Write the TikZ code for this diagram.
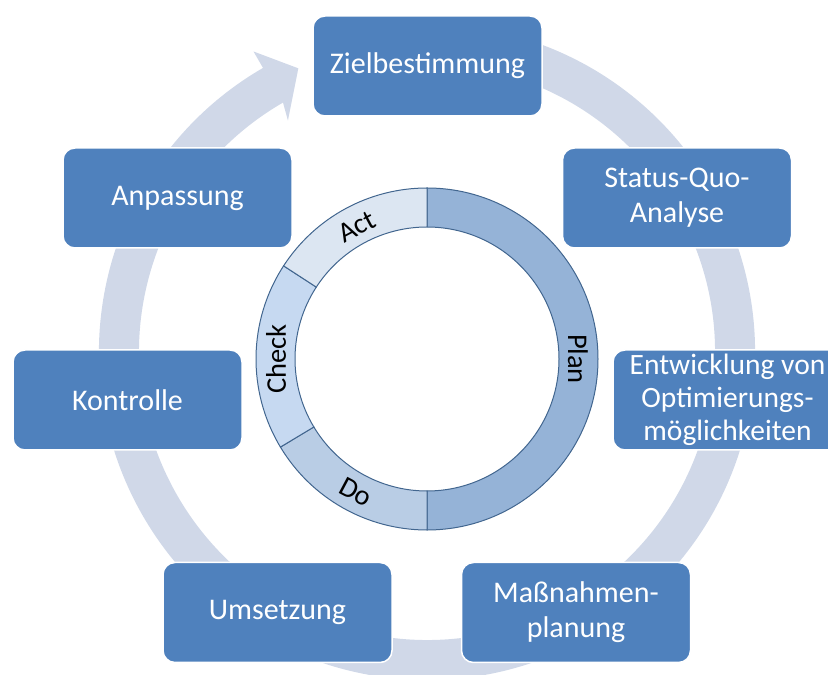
\documentclass[tikz,border=0pt]{standalone}
\usepackage{fontspec}
\setmainfont{Carlito}
\usetikzlibrary{calc}
\definecolor{boxblue}{HTML}{4F81BD}
\definecolor{bandblue}{HTML}{D0D8E8}
\definecolor{planblue}{HTML}{95B3D7}
\definecolor{doblue}{HTML}{B9CDE5}
\definecolor{checkblue}{HTML}{C6D9F1}
\definecolor{actblue}{HTML}{DCE6F2}
\definecolor{ringline}{HTML}{42668F}
\tikzset{
  stage/.style={draw=white,line width=1.5pt,fill=boxblue,rounded corners=12pt,
    minimum width=229pt,minimum height=100pt,inner sep=0pt,align=center,
    text=white,font=\fontsize{30}{35}\selectfont},
  phase/.style={draw=ringline,line width=1pt},
  phaselabel/.style={inner sep=0pt,text=black,font=\fontsize{28.5}{32}\selectfont}
}
\begin{document}
\begin{tikzpicture}[x=1pt,y=1pt]
\useasboundingbox (0,0) rectangle (828,675);
\clip (0,0) rectangle (828,675);
\coordinate (cycle) at (427,323);
\coordinate (ring) at (427,316);

\fill[bandblue] ($(cycle)+(75:328)$) arc[start angle=75,end angle=-240,radius=328]
  -- ($(cycle)+(120:347)$) -- ($(cycle)+(114.4:311.5)$) -- ($(cycle)+(121:270)$)
  -- ($(cycle)+(120:288)$) arc[start angle=120,end angle=435,radius=288] -- cycle;

\node[stage] (ziel) at (427.5,609) {Zielbestimmung};
\node[stage] (status) at (677,477) {Status-Quo-\\Analyse};
\node[stage,font=\fontsize{29.5}{33}\selectfont] (entwicklung) at (727.5,275) {Entwicklung von\\Optimierungs-\\möglichkeiten};
\node[stage] (massnahmen) at (576,62.5) {Maßnahmen-\\planung};
\node[stage] (umsetzung) at (277.5,62.5) {Umsetzung};
\node[stage] (kontrolle) at (127.5,275) {Kontrolle};
\node[stage] (anpassung) at (177.5,477) {Anpassung};

\foreach \a/\b/\c in {-90/90/planblue,211/270/doblue,147/211/checkblue,90/147/actblue}
  \filldraw[phase,fill=\c] ($(ring)+(\a:171)$) arc[start angle=\a,end angle=\b,radius=171]
    -- ($(ring)+(\b:132)$) arc[start angle=\b,end angle=\a,radius=132] -- cycle;

\node[phaselabel,rotate=-90] (plan) at ($(ring)+(0:151)$) {Plan};
\node[phaselabel,rotate=-28] (do) at ($(ring)+(242:151)$) {Do};
\node[phaselabel,rotate=90] (check) at ($(ring)+(180:151)$) {Check};
\node[phaselabel,rotate=28] (act) at ($(ring)+(118:150)$) {Act};
\end{tikzpicture}
\end{document}
